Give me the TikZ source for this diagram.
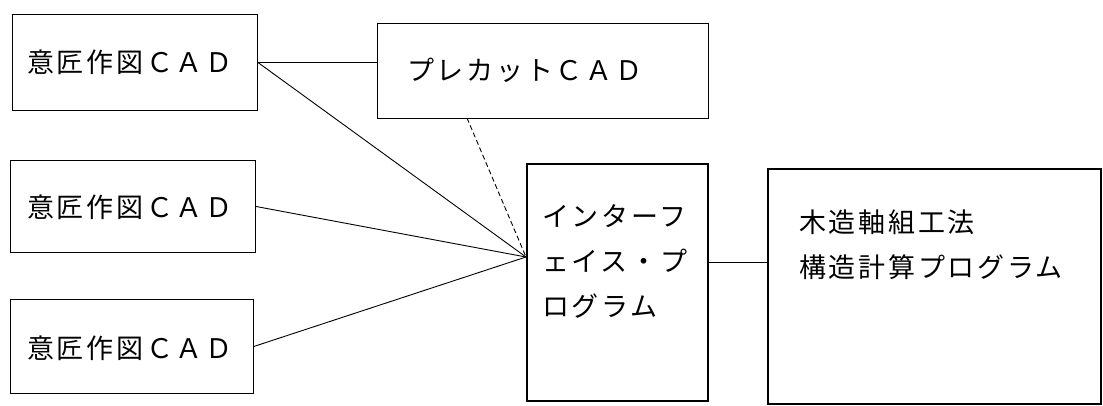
\documentclass[tikz,border=0pt]{standalone}
\usepackage{fontspec}
\newfontfamily\jp[LetterSpace=10]{Noto Sans CJK JP}
\begin{document}
\begin{tikzpicture}[x=1pt,y=-1pt,
  box/.style={draw, line width=0.9pt, inner sep=0pt, anchor=north west},
  thickbox/.style={box, line width=1.8pt},
  lbl/.style={font=\jp\fontsize{27}{45}\selectfont, inner sep=0pt, anchor=west, align=left},
  conn/.style={line width=0.9pt}]
\useasboundingbox (0,0) rectangle (1103,405);
% boxes
\node[box, minimum width=245pt, minimum height=96pt] (d1) at (12,14) {};
\node[box, minimum width=245pt, minimum height=92pt] (d2) at (10,160) {};
\node[box, minimum width=243pt, minimum height=94pt] (d3) at (10,299) {};
\node[box, minimum width=331pt, minimum height=95pt] (pc) at (377,23) {};
\node[thickbox, minimum width=181pt, minimum height=237pt] (ifc) at (526,163) {};
\node[thickbox, minimum width=333pt, minimum height=235pt] (st) at (767,168) {};
% labels
\node[lbl] (t1) at (27,62) {意匠作図ＣＡＤ};
\node[lbl] (t2) at (27,207) {意匠作図ＣＡＤ};
\node[lbl] (t3) at (27,348) {意匠作図ＣＡＤ};
\node[lbl] (tp) at (407,70) {プレカットＣＡＤ};
\node[lbl] (ti) at (542,261) {インターフ\\ェイス・プ\\ログラム};
\node[lbl] (ts) at (799,245) {木造軸組工法\\構造計算プログラム};
% connectors
\coordinate (hub) at (526,257);
\coordinate (pcs) at (467,118);
\draw[conn] (d1.east) -- (d1.east -| pc.west);
\draw[conn] (d1.east) -- (hub);
\draw[conn] (d2.east) -- (hub);
\draw[conn] (d3.east) -- (hub);
\draw[conn, dash pattern=on 5pt off 3pt] (pcs) -- (hub);
\draw[conn] (ifc.east |- 0,262) -- (st.west |- 0,262);
\end{tikzpicture}
\end{document}
